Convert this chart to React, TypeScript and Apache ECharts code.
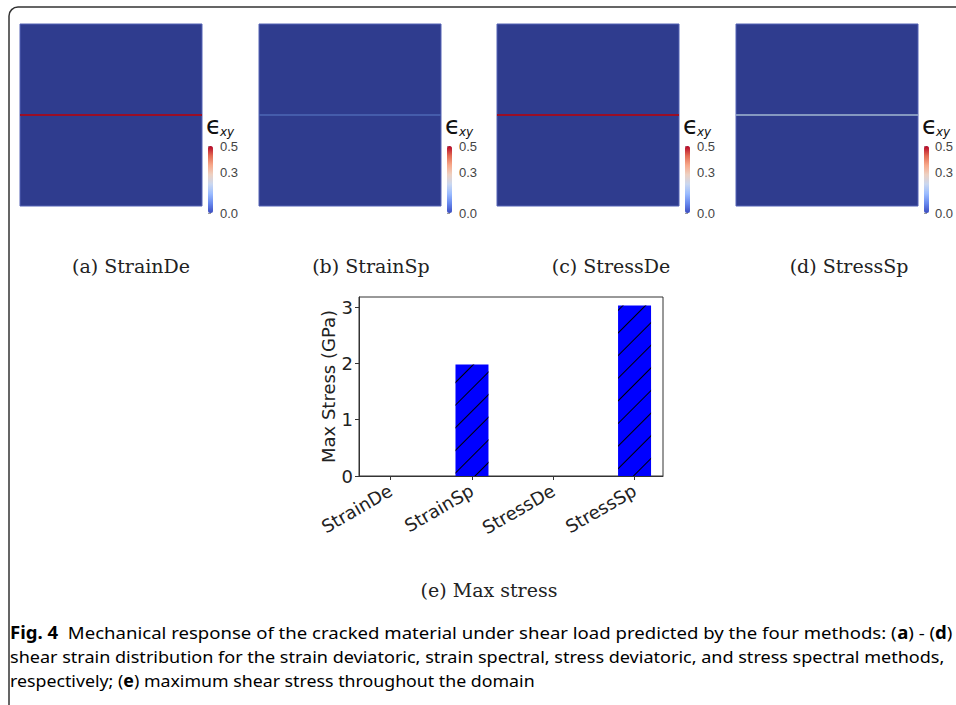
import React, { useEffect, useRef } from 'react';
import * as echarts from 'echarts';

// ---------- data ----------
const methods = ['StrainDe', 'StrainSp', 'StressDe', 'StressSp'];
const panelLetters = ['a', 'b', 'c', 'd'];
const maxStress = [0, 1.98, 0, 3.03]; // GPa
const crackStrain = [0.5, 0.05, 0.5, 0.17]; // shear strain along the crack
const crackY = 0.5; // crack position, fraction of domain height
const strainRange = [0, 0.5];
const colorbarTicks = [0, 0.3, 0.5];
const stressTicks = [0, 1, 2, 3];
const methodTicks = [0, 1, 2, 3];
const captionLines: [string, boolean][][] = [
  [
    ['Fig. 4', true],
    ['  Mechanical response of the cracked material under shear load predicted by the four methods: (', false],
    ['a', true],
    [') - (', false],
    ['d', true],
    [')', false],
  ],
  [['shear strain distribution for the strain deviatoric, strain spectral, stress deviatoric, and stress spectral methods,', false]],
  [
    ['respectively; (', false],
    ['e', true],
    [') maximum shear stress throughout the domain', false],
  ],
];

// ---------- styles / layout ----------
const coolwarm = ['#3b4cc0', '#6788ee', '#9abbff', '#c9d7f0', '#edd1c2', '#f7a889', '#e26952', '#b40426'];
const shaded = ['#2f3c8e', '#4f69b7', '#7790c4', '#9ba6b9', '#b6a195', '#be8169', '#ae513f', '#9a0e26'];
const panelLeft = [20, 259, 497, 736];
const panelTop = 24;
const panelSize = 182;
const captionX = [131, 371, 611, 849];
const capFont = 'Noto Sans';
const capTargets = [942, 935, 525];

function measure(segs: [string, boolean][], size: number) {
  const c = document.createElement('canvas').getContext('2d')!;
  let w = 0;
  for (const [t, b] of segs) {
    c.font = `${b ? 'bold ' : ''}${size}px "${capFont}"`;
    w += c.measureText(t).width;
  }
  return w;
}

export default function App() {
  const ref = useRef<HTMLDivElement>(null);
  useEffect(() => {
    const chart = echarts.init(ref.current!, undefined, { renderer: 'svg' });
    const grids: any[] = [];
    const xAxes: any[] = [];
    const yAxes: any[] = [];
    const series: any[] = [];
    const visualMaps: any[] = [];
    const graphics: any[] = [];

    // field panels
    methods.forEach((m, i) => {
      grids.push({
        left: panelLeft[i], top: panelTop, width: panelSize, height: panelSize,
        show: true, backgroundColor: '#2f3c8e', borderColor: '#5463b5', borderWidth: 1,
      });
      xAxes.push({ gridIndex: i, type: 'value', min: 0, max: 1, show: false });
      yAxes.push({ gridIndex: i, type: 'value', min: 0, max: 1, show: false });
      const t = (crackStrain[i] - strainRange[0]) / (strainRange[1] - strainRange[0]);
      series.push({
        type: 'line', xAxisIndex: i, yAxisIndex: i, silent: true, symbol: 'none',
        data: [[0, crackY], [1, crackY]],
        lineStyle: { width: 2, color: echarts.color.lerp(t, shaded) },
      });
    });

    // colorbars
    methods.forEach((m, i) => {
      const cbLeft = panelLeft[i] + panelSize + 6;
      const gi = 4 + i;
      visualMaps.push({
        type: 'continuous', seriesIndex: [], min: strainRange[0], max: strainRange[1],
        left: cbLeft, top: 146, itemWidth: 5, itemHeight: 67, padding: 0,
        calculable: false, hoverLink: false, inRange: { color: coolwarm },
      });
      grids.push({ left: cbLeft, top: 146, width: 5, height: 67 });
      xAxes.push({ gridIndex: gi, type: 'value', min: 0, max: 1, show: false });
      yAxes.push({
        gridIndex: gi, type: 'value', min: strainRange[0], max: strainRange[1], position: 'right', offset: 4,
        axisLine: { show: false }, splitLine: { show: false },
        axisTick: { show: true, length: 3, customValues: colorbarTicks, lineStyle: { color: '#999' } },
        axisLabel: {
          customValues: colorbarTicks, margin: 3, fontSize: 13, color: '#444', fontFamily: 'Liberation Sans',
          formatter: (v: number) => v.toFixed(1),
        },
      });
      graphics.push({
        type: 'text', x: cbLeft - 2, y: 125,
        style: { text: 'ϵ', fontSize: 25, fontFamily: 'DejaVu Sans', fill: '#111', textVerticalAlign: 'middle' },
      });
      graphics.push({
        type: 'text', x: cbLeft + 12, y: 132,
        style: { text: 'xy', fontSize: 12, fontStyle: 'italic', fontFamily: 'DejaVu Sans', fill: '#111', textVerticalAlign: 'middle' },
      });
      graphics.push({
        type: 'text', x: captionX[i], y: 266,
        style: {
          text: `(${panelLetters[i]}) ${m}`, fontSize: 19, fontFamily: 'DejaVu Serif', fill: '#222',
          textAlign: 'center', textVerticalAlign: 'middle',
        },
      });
    });

    // bar chart
    grids.push({ left: 359, top: 297, width: 304, height: 179, show: true, borderColor: '#333', borderWidth: 1, backgroundColor: 'transparent' });
    xAxes.push({
      gridIndex: 8, type: 'value', min: -0.39, max: 3.35,
      axisLine: { show: true, onZero: false, lineStyle: { color: '#333' } }, splitLine: { show: false },
      axisTick: { show: true, length: 4, customValues: methodTicks, lineStyle: { color: '#333' } },
      axisLabel: {
        customValues: methodTicks, rotate: 30, margin: 13, fontSize: 18, color: '#222', fontFamily: 'DejaVu Sans',
        formatter: (v: number) => methods[Math.round(v)] ?? '',
      },
    });
    yAxes.push({
      gridIndex: 8, type: 'value', min: 0, max: 3.18,
      name: 'Max Stress (GPa)', nameLocation: 'middle', nameGap: 22,
      nameTextStyle: { fontSize: 18, color: '#222', fontFamily: 'DejaVu Sans' },
      axisLine: { show: true, onZero: false, lineStyle: { color: '#333' } }, splitLine: { show: false },
      axisTick: { show: true, length: 4, customValues: stressTicks, lineStyle: { color: '#333' } },
      axisLabel: { customValues: stressTicks, margin: 6, fontSize: 18, color: '#222', fontFamily: 'DejaVu Sans' },
    });
    series.push({
      type: 'bar', xAxisIndex: 8, yAxisIndex: 8, barWidth: 33, silent: true,
      data: maxStress.map((v, i) => [i, v]),
      itemStyle: {
        color: '#0000ff',
        decal: {
          symbol: 'rect', symbolSize: 1, color: '#000',
          dashArrayX: [1, 0], dashArrayY: [1, 15], rotation: -Math.PI / 4,
        },
      },
    });
    graphics.push({
      type: 'text', x: 489, y: 590,
      style: { text: '(e) Max stress', fontSize: 19, fontFamily: 'DejaVu Serif', fill: '#222', textAlign: 'center', textVerticalAlign: 'middle' },
    });

    // figure caption
    const capSize = 17;
    captionLines.forEach((segs, li) => {
      const w = measure(segs, capSize);
      const sx = capTargets[li] / w;
      graphics.push({
        type: 'text', x: 10, y: 632 + li * 24, scaleX: sx,
        style: {
          text: segs.map(([t, b]) => `{${b ? 'b' : 'n'}|${t}}`).join(''),
          rich: {
            n: { fontSize: capSize, fontFamily: capFont, color: '#231f20' },
            b: { fontSize: capSize, fontFamily: capFont, fontWeight: 'bold', color: '#231f20' },
          },
          textVerticalAlign: 'middle',
        },
      });
    });

    // frame
    graphics.push({
      type: 'rect', shape: { x: 9, y: 7, width: 1200, height: 1000, r: [9, 0, 0, 0] },
      style: { fill: 'none', stroke: '#333', lineWidth: 1.5 }, silent: true,
    });

    chart.setOption({
      animation: false,
      backgroundColor: '#fff',
      grid: grids,
      xAxis: xAxes,
      yAxis: yAxes,
      visualMap: visualMaps,
      series,
      graphic: graphics,
    });
    return () => chart.dispose();
  }, []);
  return <div ref={ref} style={{ position: 'fixed', left: 0, top: 0, width: 956, height: 705 }} />;
}
